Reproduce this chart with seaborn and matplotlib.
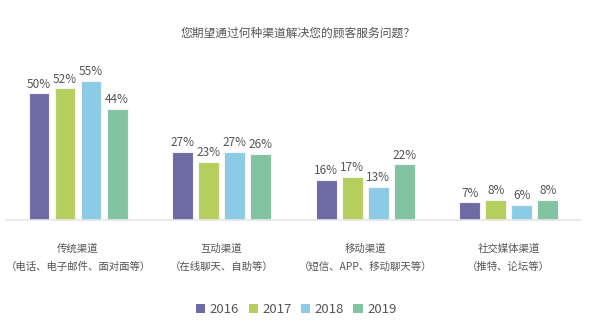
import matplotlib
matplotlib.use("Agg")
import matplotlib.pyplot as plt
import seaborn as sns
import pandas as pd
from matplotlib.patches import Patch

categories = ["传统渠道\n（电话、电子邮件、面对面等）",
              "互动渠道\n（在线聊天、自助等）",
              "移动渠道\n（短信、APP、移动聊天等）",
              "社交媒体渠道\n（推特、论坛等）"]
years = ["2016", "2017", "2018", "2019"]
v2016 = [50, 27, 16, 7]
v2017 = [52, 23, 17, 8]
v2018 = [55, 27, 13, 6]
v2019 = [44, 26, 22, 8]
colors = ["#6E6AA4", "#B5CE5E", "#8CCBE6", "#82C3A2"]

rows = []
for y, vals in zip(years, [v2016, v2017, v2018, v2019]):
    for c, v in zip(categories, vals):
        rows.append({"cat": c, "year": y, "val": v})
df = pd.DataFrame(rows)

sns.set_theme(style="white")
plt.rcParams['font.family'] = ['Noto Sans CJK SC', 'DejaVu Sans']

fig = plt.figure(figsize=(6, 3.28), dpi=100)
fig.patch.set_facecolor("white")
ax = fig.add_axes([0.0105, 0.329, 0.957, 0.488])
sns.barplot(data=df, x="cat", y="val", hue="year", palette=colors,
            width=0.725, gap=0.2, ax=ax, legend=False, saturation=1,
            edgecolor="#f4f4f4", linewidth=0.8)
for cont in ax.containers:
    ax.bar_label(cont, labels=[f"{int(v)}%" for v in cont.datavalues],
                 padding=2, fontsize=8.5, color="#555555")
ax.set_xlim(-0.5, 3.5)
ax.set_ylim(0, 63.2)
ax.set_xlabel("")
ax.set_ylabel("")
ax.set_yticks([])
for s in ["top", "right", "left"]:
    ax.spines[s].set_visible(False)
ax.spines["bottom"].set_color("#e6e6e6")
ax.spines["bottom"].set_linewidth(1.2)
ax.tick_params(axis="x", length=0, pad=17, labelsize=7.5, labelcolor="#555555")
for t in ax.get_xticklabels():
    t.set_linespacing(2.0)

fig.text(0.497, 0.9, "您期望通过何种渠道解决您的顾客服务问题？", ha="center", va="center",
         fontsize=8.5, color="#555555")

handles = [Patch(facecolor=c, edgecolor="none") for c in colors]
fig.legend(handles, years, loc="center", bbox_to_anchor=(0.494, 0.056), ncol=4,
           frameon=False, fontsize=9.5, handlelength=0.7, handleheight=0.7,
           handletextpad=0.35, columnspacing=0.7, labelcolor="#555555")

fig.savefig("out.png", dpi=100, facecolor="white")
